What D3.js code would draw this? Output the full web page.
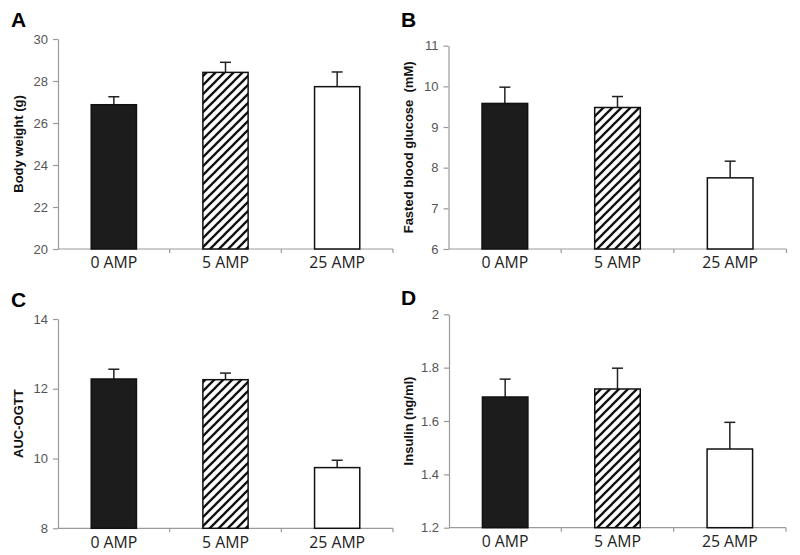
<!DOCTYPE html>
<html>
<head>
<meta charset="utf-8">
<script src="https://cdn.jsdelivr.net/npm/d3@7"></script>
<style>
  html, body { margin: 0; padding: 0; background: #fff; }
  svg { display: block; }
</style>
</head>
<body>
<svg id="chart" width="800" height="555"></svg>
<script>
const categories = ["0 AMP", "5 AMP", "25 AMP"];

const bodyWeight = [26.87, 28.41, 27.73];
const bodyWeightErr = [0.38, 0.48, 0.70];
const bodyWeightTicks = [20, 22, 24, 26, 28, 30];

const glucose = [9.58, 9.48, 7.75];
const glucoseErr = [0.40, 0.27, 0.41];
const glucoseTicks = [6, 7, 8, 9, 10, 11];

const aucOgtt = [12.28, 12.26, 9.74];
const aucOgttErr = [0.28, 0.19, 0.21];
const aucOgttTicks = [8, 10, 12, 14];

const insulin = [1.69, 1.72, 1.495];
const insulinErr = [0.067, 0.078, 0.10];
const insulinTicks = [1.2, 1.4, 1.6, 1.8, 2];

const panels = [
  { letter: "A", title: "Body weight (g)", values: bodyWeight, errs: bodyWeightErr, ticks: bodyWeightTicks, fmt: d3.format("d"),
    box: { left: 58, right: 393, top: 39, bottom: 249 }, letterPos: [11, 27], titleX: 23 },
  { letter: "B", title: "Fasted blood glucose  (mM)", values: glucose, errs: glucoseErr, ticks: glucoseTicks, fmt: d3.format("d"),
    box: { left: 448.5, right: 786.5, top: 45.7, bottom: 249 }, letterPos: [401, 27], titleX: 413 },
  { letter: "C", title: "AUC-OGTT", values: aucOgtt, errs: aucOgttErr, ticks: aucOgttTicks, fmt: d3.format("d"),
    box: { left: 58, right: 393, top: 319, bottom: 528.3 }, letterPos: [11, 307], titleX: 23 },
  { letter: "D", title: "Insulin (ng/ml)", values: insulin, errs: insulinErr, ticks: insulinTicks, fmt: d => (Number.isInteger(d) ? d3.format("d")(d) : d3.format(".1f")(d)),
    box: { left: 449, right: 786, top: 314.3, bottom: 527.7 }, letterPos: [401, 305], titleX: 413 }
];

const fills = ["#1c1c1c", "url(#hatch)", "#ffffff"];

const svg = d3.select("#chart");
const defs = svg.append("defs");
const pat = defs.append("pattern")
  .attr("id", "hatch")
  .attr("patternUnits", "userSpaceOnUse")
  .attr("width", 9).attr("height", 9);
pat.append("rect").attr("width", 9).attr("height", 9).attr("fill", "#fff");
pat.append("path")
  .attr("d", "M-1,10 L10,-1 M-3,3 L3,-3 M6,12 L12,6")
  .attr("stroke", "#111").attr("stroke-width", 2.3);

panels.forEach(p => {
  const b = p.box;
  const g = svg.append("g");
  const y = d3.scaleLinear().domain([p.ticks[0], p.ticks[p.ticks.length - 1]]).range([b.bottom, b.top]);
  const x = d3.scaleBand().domain(categories).range([b.left, b.right]).padding(0);
  const bw = x.bandwidth() * 0.405;

  // y axis
  const yAxis = g.append("g").attr("transform", `translate(${b.left},0)`)
    .call(d3.axisLeft(y).tickValues(p.ticks).tickFormat(p.fmt).tickSize(5).tickSizeOuter(0).tickPadding(5));
  yAxis.select(".domain").attr("stroke", "#9a9a9a").attr("stroke-width", 1.2);
  yAxis.selectAll(".tick line").attr("stroke", "#9a9a9a").attr("stroke-width", 1.2);
  yAxis.selectAll(".tick text").attr("fill", "#555").attr("font-family", "Liberation Sans, Arial, sans-serif").attr("font-size", 13);

  // x axis line
  g.append("line").attr("x1", b.left).attr("x2", b.right).attr("y1", b.bottom).attr("y2", b.bottom)
    .attr("stroke", "#9a9a9a").attr("stroke-width", 1.2);
  const bounds = categories.map(c => x(c)).concat([x(categories[categories.length - 1]) + x.bandwidth()]);
  g.selectAll(".xt").data(bounds.slice(1)).enter().append("line")
    .attr("x1", d => d).attr("x2", d => d).attr("y1", b.bottom).attr("y2", b.bottom + 4)
    .attr("stroke", "#9a9a9a").attr("stroke-width", 1.2);

  // x labels
  g.selectAll(".xl").data(categories).enter().append("text")
    .attr("x", d => x(d) + x.bandwidth() / 2)
    .attr("y", b.bottom + 19.3)
    .attr("text-anchor", "middle")
    .attr("font-family", "Open Sans, Liberation Sans, Arial, sans-serif")
    .attr("font-size", 15.8)
    .attr("fill", "#222")
    .text(d => d);

  // error bars
  const data = categories.map((c, i) => ({ c, v: p.values[i], e: p.errs[i], i }));
  g.selectAll(".err").data(data).enter().append("line")
    .attr("x1", d => x(d.c) + x.bandwidth() / 2).attr("x2", d => x(d.c) + x.bandwidth() / 2)
    .attr("y1", d => y(d.v)).attr("y2", d => y(d.v + d.e))
    .attr("stroke", "#222").attr("stroke-width", 1.5);
  g.selectAll(".cap").data(data).enter().append("line")
    .attr("x1", d => x(d.c) + x.bandwidth() / 2 - 5.5).attr("x2", d => x(d.c) + x.bandwidth() / 2 + 5.5)
    .attr("y1", d => y(d.v + d.e)).attr("y2", d => y(d.v + d.e))
    .attr("stroke", "#222").attr("stroke-width", 1.5);

  // bars
  g.selectAll(".bar").data(data).enter().append("rect")
    .attr("x", d => x(d.c) + x.bandwidth() / 2 - bw / 2)
    .attr("y", d => y(d.v))
    .attr("width", bw)
    .attr("height", d => y(p.ticks[0]) - y(d.v))
    .attr("fill", d => fills[d.i])
    .attr("stroke", "#111").attr("stroke-width", 1.5);

  // panel letter
  svg.append("text").attr("x", p.letterPos[0]).attr("y", p.letterPos[1])
    .attr("font-family", "Liberation Sans, Arial, sans-serif").attr("font-weight", "bold")
    .attr("font-size", 21).attr("fill", "#000").text(p.letter);

  // y title
  svg.append("text")
    .attr("transform", `translate(${p.titleX},${(b.top + b.bottom) / 2}) rotate(-90)`)
    .attr("text-anchor", "middle")
    .attr("font-family", "Liberation Sans, Arial, sans-serif").attr("font-weight", "bold")
    .attr("font-size", 13).attr("fill", "#111").attr("xml:space", "preserve")
    .text(p.title);
});
</script>
</body>
</html>
